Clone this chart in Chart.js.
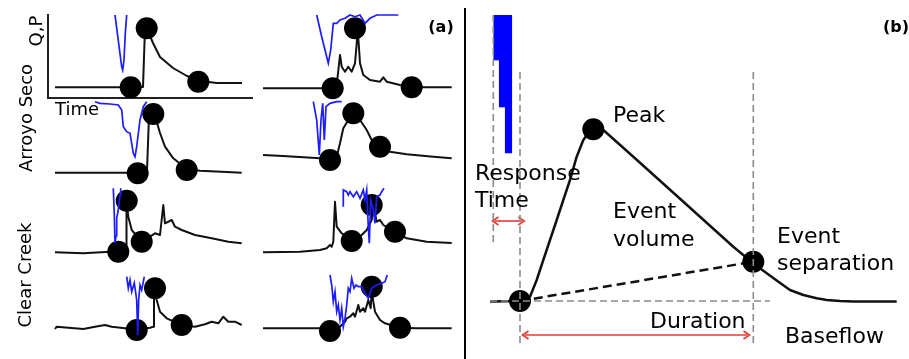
<!DOCTYPE html>
<html>
<head>
<meta charset="utf-8">
<script src="https://cdn.jsdelivr.net/npm/chart.js@4.4.1/dist/chart.umd.min.js"></script>
<style>
  body { margin: 0; background: #fff; }
  #fig { position: relative; width: 909px; height: 359px; overflow: hidden; background: #fff;
         font-family: "DejaVu Sans", sans-serif; color: #000; }
  #fig canvas { position: absolute; }
  .lbl { position: absolute; white-space: nowrap; line-height: 1; font-size: 22px; }
  .small { font-size: 18px; }
  .tag { font-size: 16px; font-weight: bold; transform: translate(-50%, -50%); }
  .rot { transform: translate(-50%, -50%) rotate(-90deg); }
  #sep { position: absolute; left: 464px; top: 8px; width: 2px; height: 351px; background: #000; }
</style>
</head>
<body>
<div id="fig">
  <div id="sep"></div>
</div>
<script>
// ---------- (a) eight example events: time, discharge Q, precipitation P (hangs from top) ----------
// Arroyo Seco, event 1 (the one with axes)
const a1Time = [7, 72, 82, 95, 97, 99, 105, 112, 125, 139, 152, 169, 194];
const a1Q = [10.7, 10.7, 10.7, 11, 70, 69, 55, 41, 30, 22, 17, 15, 15];
const a1PTime = [67, 73.7, 74.7, 76, 77.3, 78.7];
const a1P = [0, 51.7, 55, 45, 18.3, 0];
const a1DotTime = [82.7, 98.7, 150.3];
const a1DotQ = [10.7, 69.7, 16.3];

// Arroyo Seco, event 2
const a2Time = [0, 75, 90, 92, 94, 97, 101.7, 105, 110, 118.3, 126.7, 131.7, 145, 171.7, 186.7];
const a2Q = [7.3, 7.3, 8.3, 9, 64, 67, 58.3, 47, 33.3, 21.7, 15, 11, 9.3, 8, 7.3];
const a2PTime = [40, 45, 55, 63.3, 66.7, 68.3, 71.7, 75, 78.3, 80, 81.7, 85, 88.3, 91.7];
const a2P = [1.7, 3.3, 4, 5, 10, 26.7, 31.7, 33.3, 53.3, 56.7, 46.7, 20, 6.7, 1.7];
const a2DotTime = [82.7, 98.3, 131.7];
const a2DotQ = [6.7, 66, 10];

// Arroyo Seco, event 3
const b1Time = [0, 62, 73.7, 77, 78.7, 82, 85.3, 88.7, 92, 93.7, 94.7, 97, 100.3, 107, 117, 120.3, 123.7, 137, 148.7, 188.7];
const b1Q = [6.7, 6.7, 10, 40, 28.3, 23.3, 28.3, 23.3, 31.7, 51.7, 66.7, 31.7, 20, 15, 13.3, 17.7, 13.3, 10, 7.7, 7.7];
const b1PTime = [53.7, 58.7, 65.3, 67.7, 70.3, 73.7, 77, 82, 87, 92, 97, 102, 107, 113.7, 135.3];
const b1P = [0, 21.7, 48.3, 35, 8.3, 8.3, 5, 3.3, 0, 1.7, 0, 8.3, 3.3, 0, 0];
const b1DotTime = [69.7, 92, 148.7];
const b1DotQ = [6.7, 66.7, 7.7];

// Arroyo Seco, event 4
const b2Time = [0, 20, 57, 67, 73.7, 77, 80.3, 85.3, 90.3, 97, 103.7, 108.7, 117, 127, 143.7, 170.3, 188.7];
const b2Q = [25, 24, 21.7, 20, 23.3, 36.7, 51.7, 60, 66.7, 60, 50, 40, 33.3, 28.3, 25.7, 23.3, 21.7];
const b2PTime = [50.3, 53.7, 56.3, 58, 59.7, 61.3, 63, 67, 73.7, 78.7];
const b2P = [1.7, 20, 55, 20, 3.3, 40, 6.7, 3.3, 1.7, 1.7];
const b2DotTime = [67, 90.3, 117];
const b2DotQ = [20, 66.7, 33.3];

// Clear Creek, event 1
const c1Time = [0, 28.3, 55, 71, 71.5, 73.3, 76.7, 86.7, 95, 100, 105, 108.3, 110, 116.7, 120, 126.7, 140, 156.7, 173.3, 186.7];
const c1Q = [13.7, 12.7, 14.3, 14.5, 65, 49.3, 36, 24.3, 29.3, 32.7, 31, 61, 42.7, 46, 39.3, 36, 31, 27.7, 24.3, 22.7];
const c1PTime = [58.3, 59.3, 60, 61, 61.7, 63.3, 65, 65.7];
const c1P = [2.3, 29, 57, 50, 32, 24, 9, 2.3];
const c1DotTime = [63.3, 71.7, 86.7];
const c1DotQ = [14.3, 65.3, 24.3];

// Clear Creek, event 2
const c2Time = [0, 37, 57, 63.7, 67, 68.7, 70.3, 72, 73.7, 78.7, 88.7, 98.7, 103.7, 108.7, 110.3, 113.7, 117, 120.3, 132, 143.7, 163.7, 188.7];
const c2Q = [13.7, 14.3, 16, 17.7, 21, 19.3, 24.3, 64.3, 39.3, 32.7, 25, 31, 36, 46, 61, 44.3, 46, 41, 34.3, 27.7, 24.3, 23];
const c2PTime = [80.3, 80.3, 83.7, 85.3, 87, 90.3, 93.7, 97, 100.3, 102, 103.7, 105.3, 106.3, 107.7, 110.3, 112, 113.7, 117, 118.7, 121];
const c2P = [20.7, 4, 5.7, 9, 5.7, 10.7, 5.7, 12.3, 4, 14, 4, 40.7, 57.3, 14, 24, 37.3, 10.7, 9, 5.7, 2.3];
const c2DotTime = [88.7, 108.7, 132];
const c2DotQ = [25, 61, 34.3];

// Clear Creek, event 3
const d1Time = [0, 1.7, 28.3, 40, 50, 56.7, 70, 81.7, 95, 98.3, 99, 101.7, 105, 111.7, 126.7, 140, 150, 156.7, 163.3, 168.3, 173.3, 180, 186.7];
const d1Q = [23, 25.3, 23, 25.3, 27, 25.3, 23.7, 22, 24.3, 25.3, 63, 52, 40.3, 33.7, 27, 25.3, 27.7, 30.3, 28.7, 35.3, 30.3, 30.3, 27];
const d1PTime = [71.7, 73.3, 75, 76.7, 79.3, 81.7, 82.7, 83.7, 85, 86.7, 89.3];
const d1P = [4.7, 16.3, 8, 19.7, 11, 28, 63, 28, 13, 18, 4.7];
const d1DotTime = [81.7, 100, 126.7];
const d1DotQ = [22, 63.7, 27];

// Clear Creek, event 4
const d2Time = [0, 37, 57, 67, 77, 82, 83.7, 87, 90.3, 92, 95.3, 97, 100.3, 102, 105.3, 107.7, 108.7, 110.3, 112, 117, 122, 137, 153.7, 188.7];
const d2Q = [23.7, 23.7, 23.7, 21, 25.3, 30.3, 33.7, 35.3, 38.7, 35.3, 47, 40.3, 43.7, 40.3, 52, 43.7, 62, 50.3, 40.3, 32, 28.7, 24.3, 23.7, 23.7];
const d2PTime = [67, 68.7, 70.3, 72, 73.7, 75.3, 77, 78.7, 80.3, 82, 83.7, 85.3, 87, 88.7, 91, 93, 95.3, 98.7, 102, 105.3, 108.7, 113.7, 118.7, 122, 124.3];
const d2P = [3, 13, 29.7, 19.7, 39.7, 33, 48, 36.3, 54.7, 46.3, 33, 16.3, 19.7, 6.3, 16.3, 13, 14.7, 14.7, 21.3, 26.3, 16.3, 13, 11.3, 9.7, 3];
const d2DotTime = [67, 108.7, 137];
const d2DotQ = [21, 65.3, 24.3];

// ---------- (b) schematic event ----------
const rainTime = [26.5, 32, 38.5];
const rainDepth = [45, 92, 138];
const hydroTime = [20, 50, 60, 66.7, 73.3, 80, 86.7, 93.3, 100, 106.7, 113.3, 118.3, 123.3, 133.3,
                   163.3, 196.7, 230, 263.3, 283.3, 295, 306.7, 320, 333.3, 346.7, 356.7, 370, 383.3, 426.7];
const hydroQ = [48.5, 49, 53.3, 70, 90, 110, 130, 150, 170, 193.3, 210, 217, 221, 220,
                193.3, 163.3, 133.3, 103.3, 86.7, 78, 69.5, 60, 55, 51.7, 50, 49, 48.5, 48.5];
const eventTime = [50, 123.3, 283.3];   // start, peak, event separation
const eventQ = [49, 220.7, 88.3];
const guideTime = [23.3, 50, 283.3];    // rain start, response start, event end
const guideTop = [335, 278, 278];
const guideBottom = [107, 5, 5];
const baseLevel = 49;
const baseLineTime = [20, 300];
const responseArrowTime = [25, 51.7];
const responseArrowLevel = 129;
const durationArrowTime = [55, 277];
const durationArrowLevel = 15;

const BLACK = '#111111';
const BLUE = '#1c1cff';
const RED = '#e33b32';
const GREY = '#8c8c8c';

Chart.defaults.font.family = '"DejaVu Sans", sans-serif';

const fig = document.getElementById('fig');

function pts(xs, ys) {
  return xs.map((x, i) => ({ x: x, y: ys[i] }));
}

function makeCanvas(box, pad) {
  const c = document.createElement('canvas');
  const w = box.w + pad.left + pad.right;
  const h = box.h + pad.top + pad.bottom;
  c.width = w;
  c.height = h;
  c.style.width = w + 'px';
  c.style.height = h + 'px';
  c.style.left = (box.left - pad.left) + 'px';
  c.style.top = (box.top - pad.top) + 'px';
  fig.appendChild(c);
  return c;
}

function eventPanel(box, time, flow, pTime, p, dotTime, dotQ, axes) {
  const pad = { left: 14, right: 14, top: 14, bottom: 14 };
  const canvas = makeCanvas(box, pad);
  const axisOpts = (max) => ({
    type: 'linear', min: 0, max: max, display: axes,
    grid: { display: false, drawTicks: false },
    ticks: { display: false },
    border: { display: axes, color: '#222', width: 2 }
  });
  new Chart(canvas, {
    type: 'line',
    data: {
      datasets: [
        { data: pts(pTime, p), yAxisID: 'p', borderColor: BLUE, borderWidth: 1.7,
          pointRadius: 0, clip: false, order: 0 },
        { data: pts(dotTime, dotQ), showLine: false, pointRadius: 11, pointBackgroundColor: '#000',
          pointBorderWidth: 0, clip: false, order: 1 },
        { data: pts(time, flow), borderColor: BLACK, borderWidth: 2, pointRadius: 0,
          borderJoinStyle: 'round', clip: false, order: 2 }
      ]
    },
    options: {
      responsive: false, animation: false, events: [],
      layout: { padding: pad, autoPadding: false },
      plugins: { legend: { display: false }, tooltip: { enabled: false } },
      elements: { line: { tension: 0 } },
      scales: {
        x: axisOpts(box.w),
        y: axisOpts(box.h),
        p: { type: 'linear', min: 0, max: box.h, reverse: true, display: false }
      }
    }
  });
}

eventPanel({ left: 48, top: 15, w: 204, h: 83 }, a1Time, a1Q, a1PTime, a1P, a1DotTime, a1DotQ, true);
eventPanel({ left: 55, top: 100, w: 190, h: 80 }, a2Time, a2Q, a2PTime, a2P, a2DotTime, a2DotQ, false);
eventPanel({ left: 263, top: 15, w: 190, h: 80 }, b1Time, b1Q, b1PTime, b1P, b1DotTime, b1DotQ, false);
eventPanel({ left: 263, top: 100, w: 190, h: 80 }, b2Time, b2Q, b2PTime, b2P, b2DotTime, b2DotQ, false);
eventPanel({ left: 55, top: 186, w: 190, h: 80 }, c1Time, c1Q, c1PTime, c1P, c1DotTime, c1DotQ, false);
eventPanel({ left: 263, top: 186, w: 190, h: 80 }, c2Time, c2Q, c2PTime, c2P, c2DotTime, c2DotQ, false);
eventPanel({ left: 55, top: 272, w: 190, h: 80 }, d1Time, d1Q, d1PTime, d1P, d1DotTime, d1DotQ, false);
eventPanel({ left: 263, top: 272, w: 190, h: 80 }, d2Time, d2Q, d2PTime, d2P, d2DotTime, d2DotQ, false);

// arrow head drawn once, used as point style
function chevron() {
  const c = document.createElement('canvas');
  c.width = 12;
  c.height = 12;
  const g = c.getContext('2d');
  g.strokeStyle = RED;
  g.lineWidth = 1.6;
  g.beginPath();
  g.moveTo(2.5, 2);
  g.lineTo(8.5, 6);
  g.lineTo(2.5, 10);
  g.stroke();
  return c;
}
const head = chevron();

function guide(t0, q0, t1, q1) {
  return { data: [{ x: t0, y: q0 }, { x: t1, y: q1 }], borderColor: GREY, borderWidth: 1.6,
           borderDash: [7, 4], pointRadius: 0, clip: false, order: 0 };
}
function arrow(ts, level) {
  return { data: [{ x: ts[0], y: level }, { x: ts[1], y: level }], borderColor: RED, borderWidth: 1.6,
           pointStyle: head, pointRotation: [180, 0], pointRadius: 5, clip: false, order: 0 };
}

const bBox = { left: 470, top: 15, w: 430, h: 335 };
const bPad = { left: 4, right: 9, top: 15, bottom: 9 };
new Chart(makeCanvas(bBox, bPad), {
  type: 'line',
  data: {
    datasets: [
      ...guideTime.map((t, i) => guide(t, guideTop[i], t, guideBottom[i])),
      guide(baseLineTime[0], baseLevel, baseLineTime[1], baseLevel),
      arrow(responseArrowTime, responseArrowLevel),
      arrow(durationArrowTime, durationArrowLevel),
      { type: 'bar', data: pts(rainTime, rainDepth), yAxisID: 'p', backgroundColor: '#0000ff',
        barPercentage: 1, categoryPercentage: 1, barThickness: 'flex', order: 1 },
      { data: pts(eventTime, eventQ), showLine: false, pointRadius: 11, pointBackgroundColor: '#000',
        pointBorderWidth: 0, clip: false, order: 2 },
      { data: [{ x: eventTime[0], y: eventQ[0] }, { x: eventTime[2], y: eventQ[2] }],
        borderColor: BLACK, borderWidth: 2.5, borderDash: [9, 5], pointRadius: 0, order: 3 },
      { data: pts(hydroTime, hydroQ), borderColor: BLACK, borderWidth: 2.5, pointRadius: 0,
        tension: 0, borderJoinStyle: 'round', clip: false, order: 4 }
    ]
  },
  options: {
    responsive: false, animation: false, events: [],
    layout: { padding: bPad, autoPadding: false },
    plugins: { legend: { display: false }, tooltip: { enabled: false } },
    scales: {
      x: { type: 'linear', min: 0, max: bBox.w, offset: false, display: false },
      y: { type: 'linear', min: 0, max: bBox.h, display: false },
      p: { type: 'linear', min: 0, max: bBox.h, reverse: true, display: false }
    }
  }
});

// ---------- text ----------
function label(text, cls, left, top) {
  const d = document.createElement('div');
  d.className = 'lbl ' + cls;
  d.textContent = text;
  d.style.left = left + 'px';
  d.style.top = top + 'px';
  fig.appendChild(d);
}
label('(a)', 'tag', 441, 27);
label('(b)', 'tag', 896, 27);
label('Q,P', 'small rot', 36, 31);
label('Arroyo Seco', 'small rot', 25.5, 118);
label('Clear Creek', 'small rot', 25, 275);
label('Time', 'small', 55, 100);
label('Peak', '', 613, 104.4);
label('Response', '', 475, 162.4);
label('Time', '', 475, 189.4);
label('Event', '', 613, 200.4);
label('volume', '', 613, 228);
label('Event', '', 777, 225.4);
label('separation', '', 777, 252);
label('Duration', '', 650, 310.4);
label('Baseflow', '', 785, 325.4);
</script>
</body>
</html>
